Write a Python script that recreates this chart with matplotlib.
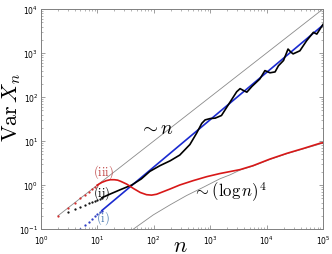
import matplotlib
matplotlib.use('Agg')
import matplotlib.pyplot as plt
import numpy as np

# guide lines
guide_n_x = [2, 1e5]
guide_n_y = [0.2, 1e4]
guide_log_lx = [1.64, 1.99, 2.29, 2.58, 2.88, 3.17, 3.35, 3.53, 3.76, 4.06, 4.36, 4.65, 5.0]
guide_log_ly = [-1.0, -0.68, -0.45, -0.24, -0.05, 0.14, 0.23, 0.34, 0.43, 0.58, 0.71, 0.82, 0.95]

# (iii) red
red_dot_n = [2, 3, 4, 5, 6, 7, 8, 9, 10]
red_dot_y = [0.2, 0.3, 0.4, 0.5, 0.6, 0.7, 0.8, 0.9, 1.0]
red_lx = [1.0, 1.08, 1.16, 1.23, 1.30, 1.36, 1.42, 1.52, 1.64, 1.76, 1.87, 1.96, 2.05,
          2.17, 2.29, 2.46, 2.70, 2.94, 3.17, 3.53, 3.76, 4.06, 4.36, 4.65, 4.95, 5.0]
red_ly = [0.0, 0.06, 0.10, 0.12, 0.12, 0.11, 0.08, 0.02, -0.08, -0.17, -0.22, -0.23, -0.21,
          -0.15, -0.09, 0.0, 0.10, 0.19, 0.26, 0.35, 0.44, 0.59, 0.72, 0.83, 0.95, 0.96]

# (ii) black
blk_dot_n = [3, 4, 5, 6, 7, 8, 9, 10, 11, 12]
blk_dot_y = [0.24, 0.28, 0.32, 0.35, 0.38, 0.41, 0.44, 0.46, 0.49, 0.51]
blk_lx = [1.08, 1.20, 1.40, 1.61, 1.78, 1.93, 2.11, 2.29, 2.46, 2.64, 2.76, 2.85, 2.91,
          3.0, 3.09, 3.20, 3.35, 3.47, 3.53, 3.60, 3.65, 3.74, 3.88, 3.97, 4.06, 4.15,
          4.21, 4.30, 4.38, 4.43, 4.47, 4.59, 4.71, 4.83, 4.89, 4.95, 5.0]
blk_ly = [-0.29, -0.22, -0.11, 0.0, 0.14, 0.31, 0.44, 0.55, 0.68, 0.92, 1.18, 1.40, 1.48,
          1.51, 1.52, 1.58, 1.88, 2.12, 2.19, 2.14, 2.11, 2.24, 2.41, 2.60, 2.55, 2.57,
          2.71, 2.83, 3.09, 3.02, 2.98, 3.05, 3.28, 3.47, 3.43, 3.55, 3.65]

# (i) blue
blu_dot_n = [5, 6, 7, 8, 9, 10, 11, 12]
blu_dot_y = [0.10, 0.124, 0.147, 0.17, 0.193, 0.216, 0.24, 0.263]
blu_x = [12, 1e5]
blu_y = [0.263, 4300]

fig = plt.figure(figsize=(3.32, 2.55), dpi=100)
ax = fig.add_axes([41/332, 1-230/255, 282/332, 220/255])
ax.set_xscale('log')
ax.set_yscale('log')
ax.set_xlim(1, 1e5)
ax.set_ylim(0.1, 1e4)

gray = '#8a8a8a'
ax.plot(guide_n_x, guide_n_y, color=gray, lw=0.6)
ax.plot(10**np.array(guide_log_lx), 10**np.array(guide_log_ly), color=gray, lw=0.6)

ax.plot(blu_dot_n, blu_dot_y, ls='none', marker='.', ms=1.2, color='#2030c0')
ax.plot(blu_x, blu_y, color='#1a2ad0', lw=1.2)

ax.plot(blk_dot_n, blk_dot_y, ls='none', marker='.', ms=1.2, color='black')
ax.plot(10**np.array(blk_lx), 10**np.array(blk_ly), color='black', lw=1.2)

ax.plot(red_dot_n, red_dot_y, ls='none', marker='.', ms=1.2, color='#d02020')
ax.plot(10**np.array(red_lx), 10**np.array(red_ly), color='#d81818', lw=1.2)

# ticks
ax.tick_params(which='both', direction='in', top=True, right=True, labelsize=5.5)
ax.tick_params(axis='x', pad=3)
ax.tick_params(axis='y', pad=2)
ax.tick_params(which='major', length=3, width=0.5, color='#777777')
ax.tick_params(which='minor', length=1.5, width=0.4, color='#777777')
for s in ax.spines.values():
    s.set_color('#808080')
    s.set_linewidth(0.7)

# annotations
ax.text(110, 20, r'$\sim n$', fontsize=14, math_fontfamily='cm', ha='center', va='center')
ax.text(2200, 0.72, r'$\sim (\log n)^4$', fontsize=12, math_fontfamily='cm', ha='center', va='center')
ax.text(12.6, 2.1, r'$\mathrm{(iii)}$', fontsize=9, math_fontfamily='cm', color='#c04848', ha='center', va='center')
ax.text(12, 0.69, r'$\mathrm{(ii)}$', fontsize=9, math_fontfamily='cm', color='black', ha='center', va='center')
ax.text(12.6, 0.19, r'$\mathrm{(i)}$', fontsize=9, math_fontfamily='cm', color='#4a7ab0', ha='center', va='center')

fig.text(12/332, 1-108/255, r'$\mathrm{Var}\,X_n$', fontsize=16, math_fontfamily='cm',
         rotation=90, ha='center', va='center')
fig.text(180/332, 1-246/255, r'$n$', fontsize=16, math_fontfamily='cm', ha='center', va='center')

fig.savefig('out.png', dpi=100)
